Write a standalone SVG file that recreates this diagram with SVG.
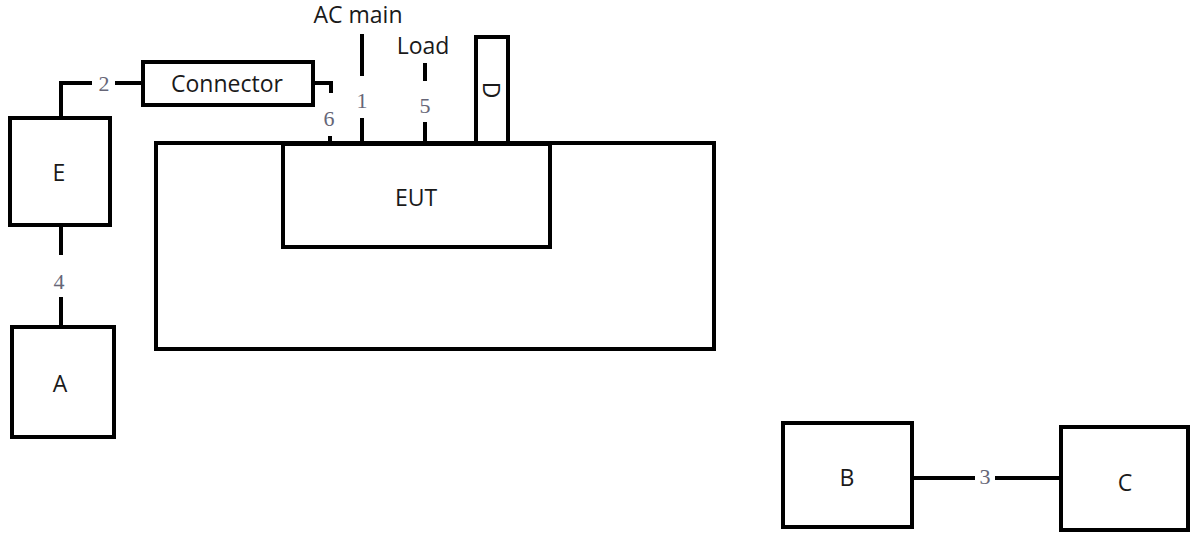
<svg xmlns="http://www.w3.org/2000/svg" width="1192" height="533" viewBox="0 0 1192 533">
  <style>
    .box { fill: #fff; stroke: #000; stroke-width: 4; }
    .wire { fill: none; stroke: #000; stroke-width: 4; }
    .lbl { font-family: "Open Sans", "Liberation Sans", sans-serif; font-size: 23px; fill: #1a1a1a; text-anchor: middle; }
    .num { font-family: "Liberation Serif", serif; font-size: 22px; fill: #666677; text-anchor: middle; }
  </style>
  <rect width="1192" height="533" fill="#fff"/>

  <!-- cables and their numbers -->
  <g id="connectors">
    <polyline class="wire" points="61,118 61,83 92,83"/>
    <line class="wire" x1="115" y1="83" x2="143" y2="83"/>
    <text class="num" x="104" y="91">2</text>
    <polyline class="wire" points="313,83 331,83 331,93"/>
    <line class="wire" x1="330" y1="136" x2="330" y2="143"/>
    <text class="num" x="329" y="126">6</text>
    <line class="wire" x1="362" y1="34" x2="362" y2="76"/>
    <line class="wire" x1="362" y1="118" x2="362" y2="143"/>
    <text class="num" x="362" y="108">1</text>
    <line class="wire" x1="425" y1="63" x2="425" y2="81"/>
    <line class="wire" x1="425" y1="122" x2="425" y2="143"/>
    <text class="num" x="425" y="113">5</text>
    <line class="wire" x1="61" y1="225" x2="61" y2="255"/>
    <line class="wire" x1="61" y1="297" x2="61" y2="327"/>
    <text class="num" x="59" y="289">4</text>
    <line class="wire" x1="912" y1="478" x2="975" y2="478"/>
    <line class="wire" x1="995" y1="478" x2="1061" y2="478"/>
    <text class="num" x="985" y="484">3</text>
    <text class="lbl" x="358" y="23">AC main</text>
    <text class="lbl" x="423" y="54">Load</text>
  </g>

  <g id="table">
    <rect class="box" x="156" y="143" width="558" height="206"/>
  </g>
  <g id="eut">
    <rect class="box" x="283" y="144" width="267" height="103"/>
    <text class="lbl" x="416" y="206">EUT</text>
  </g>
  <g id="d">
    <rect class="box" x="476" y="37" width="32" height="106"/>
    <text class="lbl" x="491" y="98" transform="rotate(90 491 90)">D</text>
  </g>
  <g id="connector">
    <rect class="box" x="143" y="62" width="170" height="43"/>
    <text class="lbl" x="227" y="92">Connector</text>
  </g>
  <g id="e">
    <rect class="box" x="10" y="118" width="100" height="107"/>
    <text class="lbl" x="59" y="181">E</text>
  </g>
  <g id="a">
    <rect class="box" x="12" y="327" width="102" height="110"/>
    <text class="lbl" x="60" y="392">A</text>
  </g>
  <g id="b">
    <rect class="box" x="783" y="423" width="129" height="104"/>
    <text class="lbl" x="847" y="486">B</text>
  </g>
  <g id="c">
    <rect class="box" x="1061" y="427" width="127" height="103"/>
    <text class="lbl" x="1125" y="491">C</text>
  </g>
</svg>
